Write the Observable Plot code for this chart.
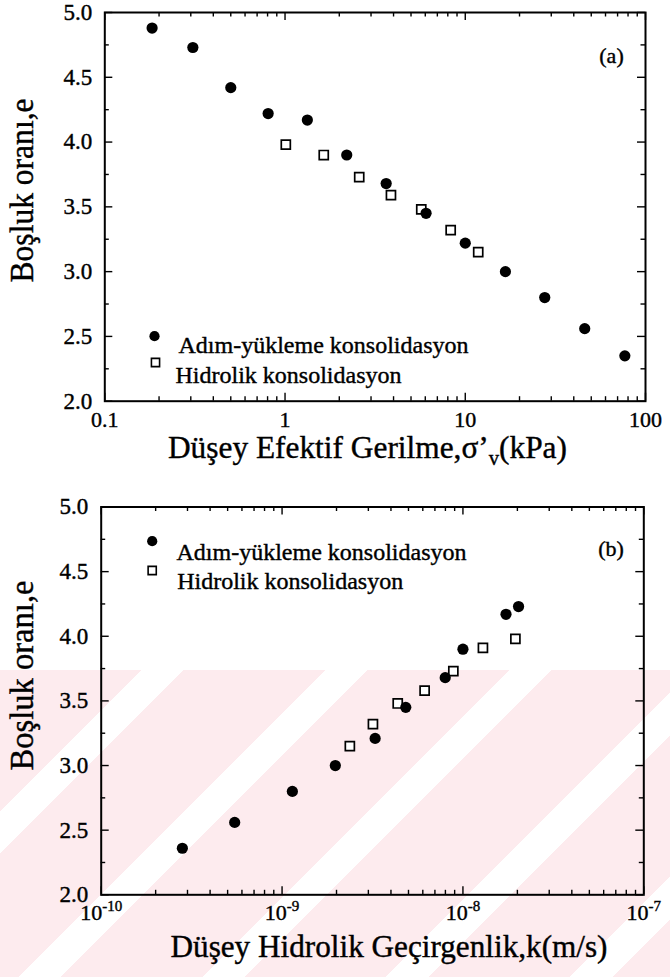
<!DOCTYPE html>
<html>
<head>
<meta charset="utf-8">
<script src="https://cdn.jsdelivr.net/npm/d3@7"></script>
<script src="https://cdn.jsdelivr.net/npm/@observablehq/plot@0.6"></script>
<style>
html, body { margin: 0; padding: 0; background: #fff; }
#wrap { position: relative; width: 670px; height: 977px; overflow: hidden; }
#wm { position: absolute; left: 0; top: 670px; width: 670px; height: 307px;
  background: repeating-linear-gradient(135deg, #fdebee 0 100px, #ffffff 100px 130px); }
#charts { position: relative; }
#charts svg { display: block; }
#charts svg text { font-family: "Liberation Serif", "Times New Roman", "DejaVu Serif", serif;
  stroke: #000; stroke-width: 0.4px; }
</style>
</head>
<body>
<div id="wrap"><div id="wm"></div><div id="charts"></div></div>
<script>
// ---------- Panel (a): void ratio vs vertical effective stress ----------
const stressStep = [0.183, 0.308, 0.50, 0.806, 1.33, 2.2, 3.64, 6.06, 10, 16.7, 27.6, 46, 76.8];
const eStepA     = [4.88, 4.73, 4.42, 4.22, 4.17, 3.90, 3.68, 3.45, 3.22, 3.00, 2.80, 2.56, 2.35];
const stressHyd  = [1.01, 1.64, 2.58, 3.87, 5.7, 8.3, 11.8];
const eHydA      = [3.98, 3.90, 3.73, 3.59, 3.48, 3.32, 3.15];

// ---------- Panel (b): void ratio vs vertical hydraulic conductivity ----------
const kStep  = [2.81e-10, 5.47e-10, 1.14e-9, 1.97e-9, 3.27e-9, 4.83e-9, 7.98e-9, 1.0e-8, 1.73e-8, 2.03e-8];
const eStepB = [2.36, 2.56, 2.80, 3.00, 3.21, 3.45, 3.68, 3.90, 4.17, 4.23];
const kHyd   = [2.37e-9, 3.18e-9, 4.36e-9, 6.14e-9, 8.85e-9, 1.29e-8, 1.95e-8];
const eHydB  = [3.15, 3.32, 3.48, 3.58, 3.73, 3.91, 3.98];

// ---------- Text / ticks ----------
const legendLabels = ["Adım-yükleme konsolidasyon", "Hidrolik konsolidasyon"];
const yTitle = "Boşluk oranı,e";
const xTitleA = "Düşey Efektif Gerilme,σ’v(kPa)";
const xTitleB = "Düşey Hidrolik Geçirgenlik,k(m/s)";
const panelLabels = ["(a)", "(b)"];
const xTicksA = [0.1, 1, 10, 100];
const xTicksB = [1e-10, 1e-9, 1e-8, 1e-7];
const yTicks = [2.0, 2.5, 3.0, 3.5, 4.0, 4.5, 5.0];
const yMinor = [2.25, 2.75, 3.25, 3.75, 4.25, 4.75];

const FONT = "'Liberation Serif', 'Times New Roman', 'DejaVu Serif', serif";

function panel(o) {
  const width = 670;
  const innerH = o.height - o.mT - o.mB;
  const innerW = width - o.mL - o.mR;
  const minor = o.xTicks.slice(0, -1).flatMap(d => d3.range(2, 10).map(m => m * d));
  const MAJ = 8, MIN = 4.5, TW = 1.4;
  const stepData = o.stepX.map((x, i) => ({x, e: o.stepE[i]}));
  const hydData = o.hydX.map((x, i) => ({x, e: o.hydE[i]}));
  return Plot.plot({
    width, height: o.height,
    marginLeft: o.mL, marginRight: o.mR, marginTop: o.mT, marginBottom: o.mB,
    x: {type: "log", domain: [o.xTicks[0], o.xTicks[o.xTicks.length - 1]]},
    y: {domain: [2, 5]},
    style: `font-family: ${FONT}; font-size: 22px; background: transparent; color: #000; overflow: visible;`,
    marks: [
      // inward tick marks on all four sides
      Plot.ruleX(minor, {insetTop: innerH - MIN, strokeWidth: TW}),
      Plot.ruleX(minor, {insetBottom: innerH - MIN, strokeWidth: TW}),
      Plot.ruleX(o.xTicks, {insetTop: innerH - MAJ, strokeWidth: TW}),
      Plot.ruleX(o.xTicks, {insetBottom: innerH - MAJ, strokeWidth: TW}),
      Plot.ruleY(yTicks, {insetRight: innerW - MAJ, strokeWidth: TW}),
      Plot.ruleY(yTicks, {insetLeft: innerW - MAJ, strokeWidth: TW}),
      Plot.ruleY(yMinor, {insetRight: innerW - MIN, strokeWidth: TW}),
      Plot.ruleY(yMinor, {insetLeft: innerW - MIN, strokeWidth: TW}),
      Plot.frame({strokeWidth: 2}),
      Plot.axisX(o.xTicks, {tickSize: 0, tickPadding: 10, tickFormat: o.xFmt, label: null, fontSize: 22, fontFamily: FONT}),
      Plot.axisY(yTicks, {tickSize: 0, tickPadding: o.yPad, tickFormat: d3.format(".1f"), label: null, fontSize: 23, fontFamily: FONT}),
      // data
      Plot.dot(hydData, {x: "x", y: "e", symbol: "square", r: 5.1, fill: "white", stroke: "black", strokeWidth: 1.7}),
      Plot.dot(stepData, {x: "x", y: "e", r: 5.6, fill: "black", stroke: "none"}),
      // legend
      Plot.dot([0], {frameAnchor: "top-left", dx: o.leg.c[0], dy: o.leg.c[1], r: 5.1, fill: "black"}),
      Plot.text([legendLabels[0]], {text: d => d, frameAnchor: "top-left", textAnchor: "start", dx: o.leg.t1[0], dy: o.leg.t1[1], fontSize: 24, fontFamily: FONT}),
      Plot.dot([0], {frameAnchor: "top-left", dx: o.leg.s[0], dy: o.leg.s[1], symbol: "square", r: 4.6, fill: "white", stroke: "black", strokeWidth: 1.6}),
      Plot.text([legendLabels[1]], {text: d => d, frameAnchor: "top-left", textAnchor: "start", dx: o.leg.t2[0], dy: o.leg.t2[1], fontSize: 24, fontFamily: FONT}),
      // panel label
      Plot.text([o.label], {text: d => d, frameAnchor: "top-right", textAnchor: "middle", dx: o.lab[0], dy: o.lab[1], fontSize: 22, fontFamily: FONT}),
      // axis titles
      Plot.text([o.xTitle], {text: d => d, frameAnchor: "bottom", textAnchor: "middle", dx: o.xt[0], dy: o.xt[1], fontSize: 32, fontFamily: FONT}),
      Plot.text([yTitle], {text: d => d, frameAnchor: "left", textAnchor: "middle", rotate: -90, dx: o.yt[0], dy: o.yt[1], fontSize: 33, fontFamily: FONT})
    ]
  });
}

const svgA = panel({
  height: 480, mL: 104.3, mR: 25, mT: 12, mB: 79.3,
  xTicks: xTicksA, xFmt: d => String(d), yPad: 12.6,
  stepX: stressStep, stepE: eStepA, hydX: stressHyd, hydE: eHydA,
  leg: {c: [49.7, 323.7], t1: [73.7, 323.3], s: [50.7, 350], t2: [70.7, 353]},
  label: panelLabels[0], lab: [-34, 35],
  xTitle: xTitleA, xt: [-7.7, 57], yt: [-82.8, -16.4]
});
const svgB = panel({
  height: 497, mL: 100.7, mR: 26.7, mT: 26.5, mB: 82.7,
  xTicks: xTicksB, xFmt: d => "10^" + Math.round(Math.log10(d)), yPad: 13,
  stepX: kStep, stepE: eStepB, hydX: kHyd, hydE: eHydB,
  leg: {c: [51, 34.2], t1: [75.3, 35.8], s: [51, 63.5], t2: [76, 65.1]},
  label: panelLabels[1], lab: [-32.8, 33.5],
  xTitle: xTitleB, xt: [16.5, 62.4], yt: [-79.2, -25.4]
});

const charts = document.getElementById("charts");
charts.appendChild(svgA);
charts.appendChild(svgB);

const NS = "http://www.w3.org/2000/svg";
function tspan(parent, str, attrs = {}) {
  const t = document.createElementNS(NS, "tspan");
  t.textContent = str;
  for (const k in attrs) t.setAttribute(k, attrs[k]);
  parent.appendChild(t);
  return t;
}
function eachText(svg, fn) { svg.querySelectorAll("text").forEach(fn); }

// superscript exponents on panel (b) tick labels
eachText(svgB, t => {
  const m = /^10\^(-?\d+)$/.exec(t.textContent);
  if (m) {
    t.textContent = "";
    tspan(t, "10");
    tspan(t, m[1], {dy: "-9", "font-size": "15"});
  }
});
// subscript v in the panel (a) x title, and title widths
eachText(svgA, t => {
  if (t.textContent === xTitleA) {
    t.textContent = "";
    tspan(t, "Düşey Efektif Gerilme,σ’");
    tspan(t, "v", {dy: "7", "font-size": "21"});
    tspan(t, "(kPa)", {dy: "-7"});
    t.setAttribute("textLength", "399");
    t.setAttribute("lengthAdjust", "spacingAndGlyphs");
  } else if (t.textContent === yTitle) {
    t.setAttribute("textLength", "184");
    t.setAttribute("lengthAdjust", "spacingAndGlyphs");
  }
});
eachText(svgB, t => {
  if (t.textContent === xTitleB) {
    t.setAttribute("textLength", "437");
    t.setAttribute("lengthAdjust", "spacingAndGlyphs");
  } else if (t.textContent === yTitle) {
    t.setAttribute("textLength", "190");
    t.setAttribute("lengthAdjust", "spacingAndGlyphs");
  }
});
</script>
</body>
</html>
